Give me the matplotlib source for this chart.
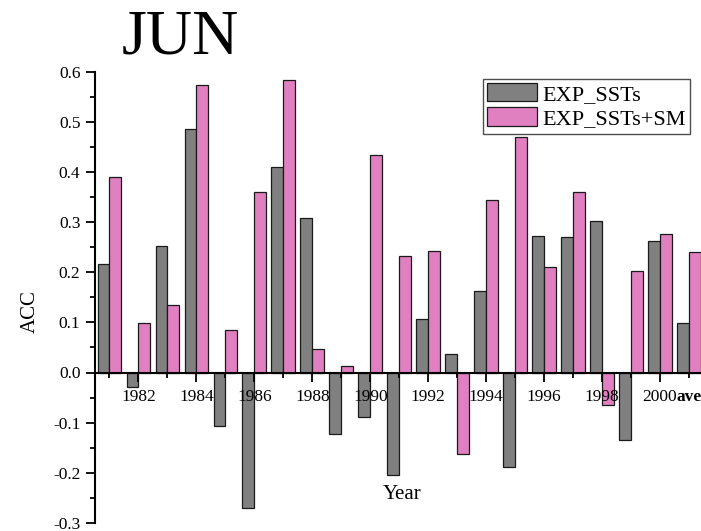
import matplotlib
matplotlib.use("Agg")
import matplotlib.pyplot as plt
import numpy as np

plt.rcParams['font.family'] = ['Liberation Serif', 'DejaVu Serif']

# Anomaly correlation coefficients for June, 1981-2000 plus the average
years = [1981, 1982, 1983, 1984, 1985, 1986, 1987, 1988, 1989, 1990,
         1991, 1992, 1993, 1994, 1995, 1996, 1997, 1998, 1999, 2000, 2001]
tick_labels = ['1982', '1984', '1986', '1988', '1990', '1992', '1994',
               '1996', '1998', '2000']
avg_label = 'ave'
exp_ssts = [0.216, -0.028, 0.252, 0.485, -0.106, -0.270, 0.409, 0.308, -0.122, -0.089,
            -0.205, 0.107, 0.037, 0.163, -0.188, 0.272, 0.270, 0.301, -0.135, 0.263,
            0.098]
exp_ssts_sm = [0.390, 0.099, 0.135, 0.573, 0.085, 0.359, 0.584, 0.047, 0.012, 0.433,
               0.232, 0.242, -0.163, 0.343, 0.469, 0.211, 0.359, -0.065, 0.203, 0.276,
               0.241]
series_names = ['EXP_SSTs', 'EXP_SSTs+SM']

W, H = 701, 531
fig = plt.figure(figsize=(W / 100, H / 100), dpi=100)
ax = fig.add_axes([95 / W, 8 / H, 608.5 / W, 451.5 / H])
ax.set_axisbelow(False)

x = np.array(years, dtype=float)
bw = 0.41
ax.bar(x - bw / 2, exp_ssts, width=bw, color='#808080', edgecolor='#1a1a1a',
       linewidth=0.9, label=series_names[0], zorder=2)
ax.bar(x + bw / 2, exp_ssts_sm, width=bw, color='#E080C0', edgecolor='#1a1a1a',
       linewidth=0.9, label=series_names[1], zorder=2)

ax.set_xlim(1980.5, 2001.5)
ax.set_ylim(-0.3, 0.6)

for s in ['top', 'right']:
    ax.spines[s].set_visible(False)
ax.spines['bottom'].set_position(('data', 0))
ax.spines['left'].set_linewidth(1.5)
ax.spines['bottom'].set_linewidth(1.5)
ax.spines['bottom'].set_zorder(3)

# y axis: major every 0.1, minor every 0.05
yt = np.round(np.arange(-0.3, 0.61, 0.1), 2)
ax.set_yticks(yt)
ax.set_yticklabels(['%.1f' % v for v in yt])
ax.set_yticks(np.round(np.arange(-0.25, 0.6, 0.1), 3), minor=True)
ax.tick_params(axis='y', which='major', direction='out', length=6.5, width=1.3,
               labelsize=12.5, pad=4)
ax.tick_params(axis='y', which='minor', direction='out', length=3.6, width=1.3)

# x axis: labelled even years, short ticks on odd years, bold average
even = [y for y in years if y % 2 == 0]
odd = [y for y in years if y % 2 == 1]
ax.set_xticks(even)
ax.set_xticklabels(tick_labels)
ax.set_xticks(odd, minor=True)
ax.set_xticklabels([''] * (len(odd) - 1) + [avg_label], minor=True)
ax.tick_params(axis='x', which='major', direction='out', length=6.5, width=1.3,
               labelsize=12.5, pad=5.5)
ax.tick_params(axis='x', which='minor', direction='out', length=3.6, width=1.3,
               labelsize=12.5, pad=5.5 + 6.5 - 3.6)
for lab in ax.get_xticklabels(minor=True):
    lab.set_fontweight('bold')

ax.text(0.5045, 0.064, 'Year', transform=ax.transAxes, ha='center', va='center',
        fontsize=15)
fig.text(30 / W, 1 - 312 / H, 'ACC', rotation=90, ha='center', va='center',
         fontsize=15)
fig.text(122 / W, 1 - 53 / H, 'JUN', ha='left', va='baseline', fontsize=46)

leg = ax.legend(loc='upper left', bbox_to_anchor=(482.5 / W, 1 - 78.5 / H),
                bbox_transform=fig.transFigure, fontsize=16, frameon=True,
                fancybox=False, edgecolor='#222222', borderaxespad=0,
                borderpad=0.2, handlelength=2.25, handleheight=0.9,
                handletextpad=0.25, labelspacing=0.12)
leg.get_frame().set_linewidth(1.0)
leg.set_zorder(5)

fig.savefig('out.png', dpi=100)
